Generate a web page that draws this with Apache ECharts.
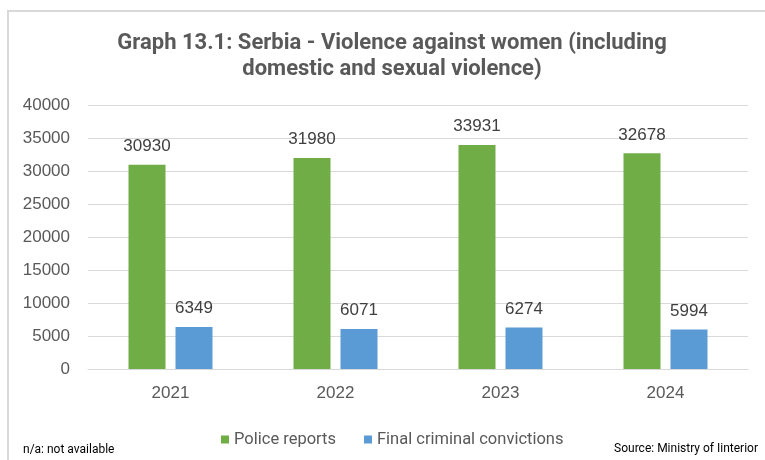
<!DOCTYPE html>
<html>
<head>
<meta charset="utf-8">
<script src="https://cdn.jsdelivr.net/npm/echarts@6/dist/echarts.min.js"></script>
<style>
  html, body { margin: 0; padding: 0; background: #fff; }
  #chart { width: 765px; height: 460px; }
</style>
</head>
<body>
<div id="chart"></div>
<script>
  // chart data
  const years = ['2021', '2022', '2023', '2024'];
  const policeReports = [30930, 31980, 33931, 32678];
  const convictions = [6349, 6071, 6274, 5994];
  const seriesNames = ['Police reports', 'Final criminal convictions'];

  const ROBOTO = 'Roboto, "Noto Sans", sans-serif';
  const ARIAL = '"Liberation Sans", Arial, sans-serif';
  const GRAY = '#595959';

  const dataLabel = {
    show: true,
    position: 'top',
    distance: 10,
    fontFamily: ARIAL,
    fontSize: 17,
    color: '#404040'
  };

  let myChart = echarts.init(document.getElementById('chart'));
  let option = {
    backgroundColor: '#fff',
    animation: false,
    title: {
      text: 'Graph 13.1: Serbia - Violence against women (including\ndomestic and sexual violence)',
      left: 387,
      textAlign: 'center',
      top: 25,
      textStyle: {
        fontFamily: ROBOTO,
        fontSize: 22,
        fontWeight: 'bold',
        color: GRAY,
        lineHeight: 26
      }
    },
    legend: {
      top: 426,
      left: 216,
      itemWidth: 8,
      itemHeight: 8,
      itemGap: 28,
      icon: 'rect',
      textStyle: { fontFamily: ROBOTO, fontSize: 16.5, color: GRAY },
      data: seriesNames
    },
    grid: {
      top: 105,
      bottom: 91,
      left: 88,
      right: 17
    },
    xAxis: {
      type: 'category',
      data: years,
      axisTick: { show: false },
      axisLine: { lineStyle: { color: '#d9d9d9', width: 1 } },
      axisLabel: {
        fontFamily: ARIAL,
        fontSize: 17,
        color: GRAY,
        margin: 16
      }
    },
    yAxis: {
      type: 'value',
      min: 0,
      max: 40000,
      interval: 5000,
      axisLine: { show: false },
      axisTick: { show: false },
      splitLine: { lineStyle: { color: '#d9d9d9', width: 1 } },
      axisLabel: {
        fontFamily: ARIAL,
        fontSize: 17,
        color: GRAY,
        margin: 18,
        formatter: v => String(v)
      }
    },
    series: [
      {
        name: seriesNames[0],
        type: 'bar',
        data: policeReports,
        barWidth: 37,
        barGap: '27%',
        itemStyle: { color: '#70AD47' },
        label: dataLabel
      },
      {
        name: seriesNames[1],
        type: 'bar',
        data: convictions,
        barWidth: 37,
        itemStyle: { color: '#5B9BD5' },
        label: dataLabel
      }
    ],
    graphic: [
      {
        type: 'rect',
        shape: { x: 8, y: 11, width: 800, height: 500 },
        style: { fill: 'none', stroke: '#d9d9d9', lineWidth: 2 },
        z: -1
      },
      {
        type: 'text',
        left: 23,
        top: 444,
        style: { text: 'n/a: not available', fontFamily: ROBOTO, fontSize: 12, fill: '#000' }
      },
      {
        type: 'text',
        right: 7,
        top: 443,
        style: { text: 'Source: Ministry of Iinterior', fontFamily: ROBOTO, fontSize: 12, fill: '#000' }
      }
    ]
  };
  option && myChart.setOption(option);
</script>
</body>
</html>
